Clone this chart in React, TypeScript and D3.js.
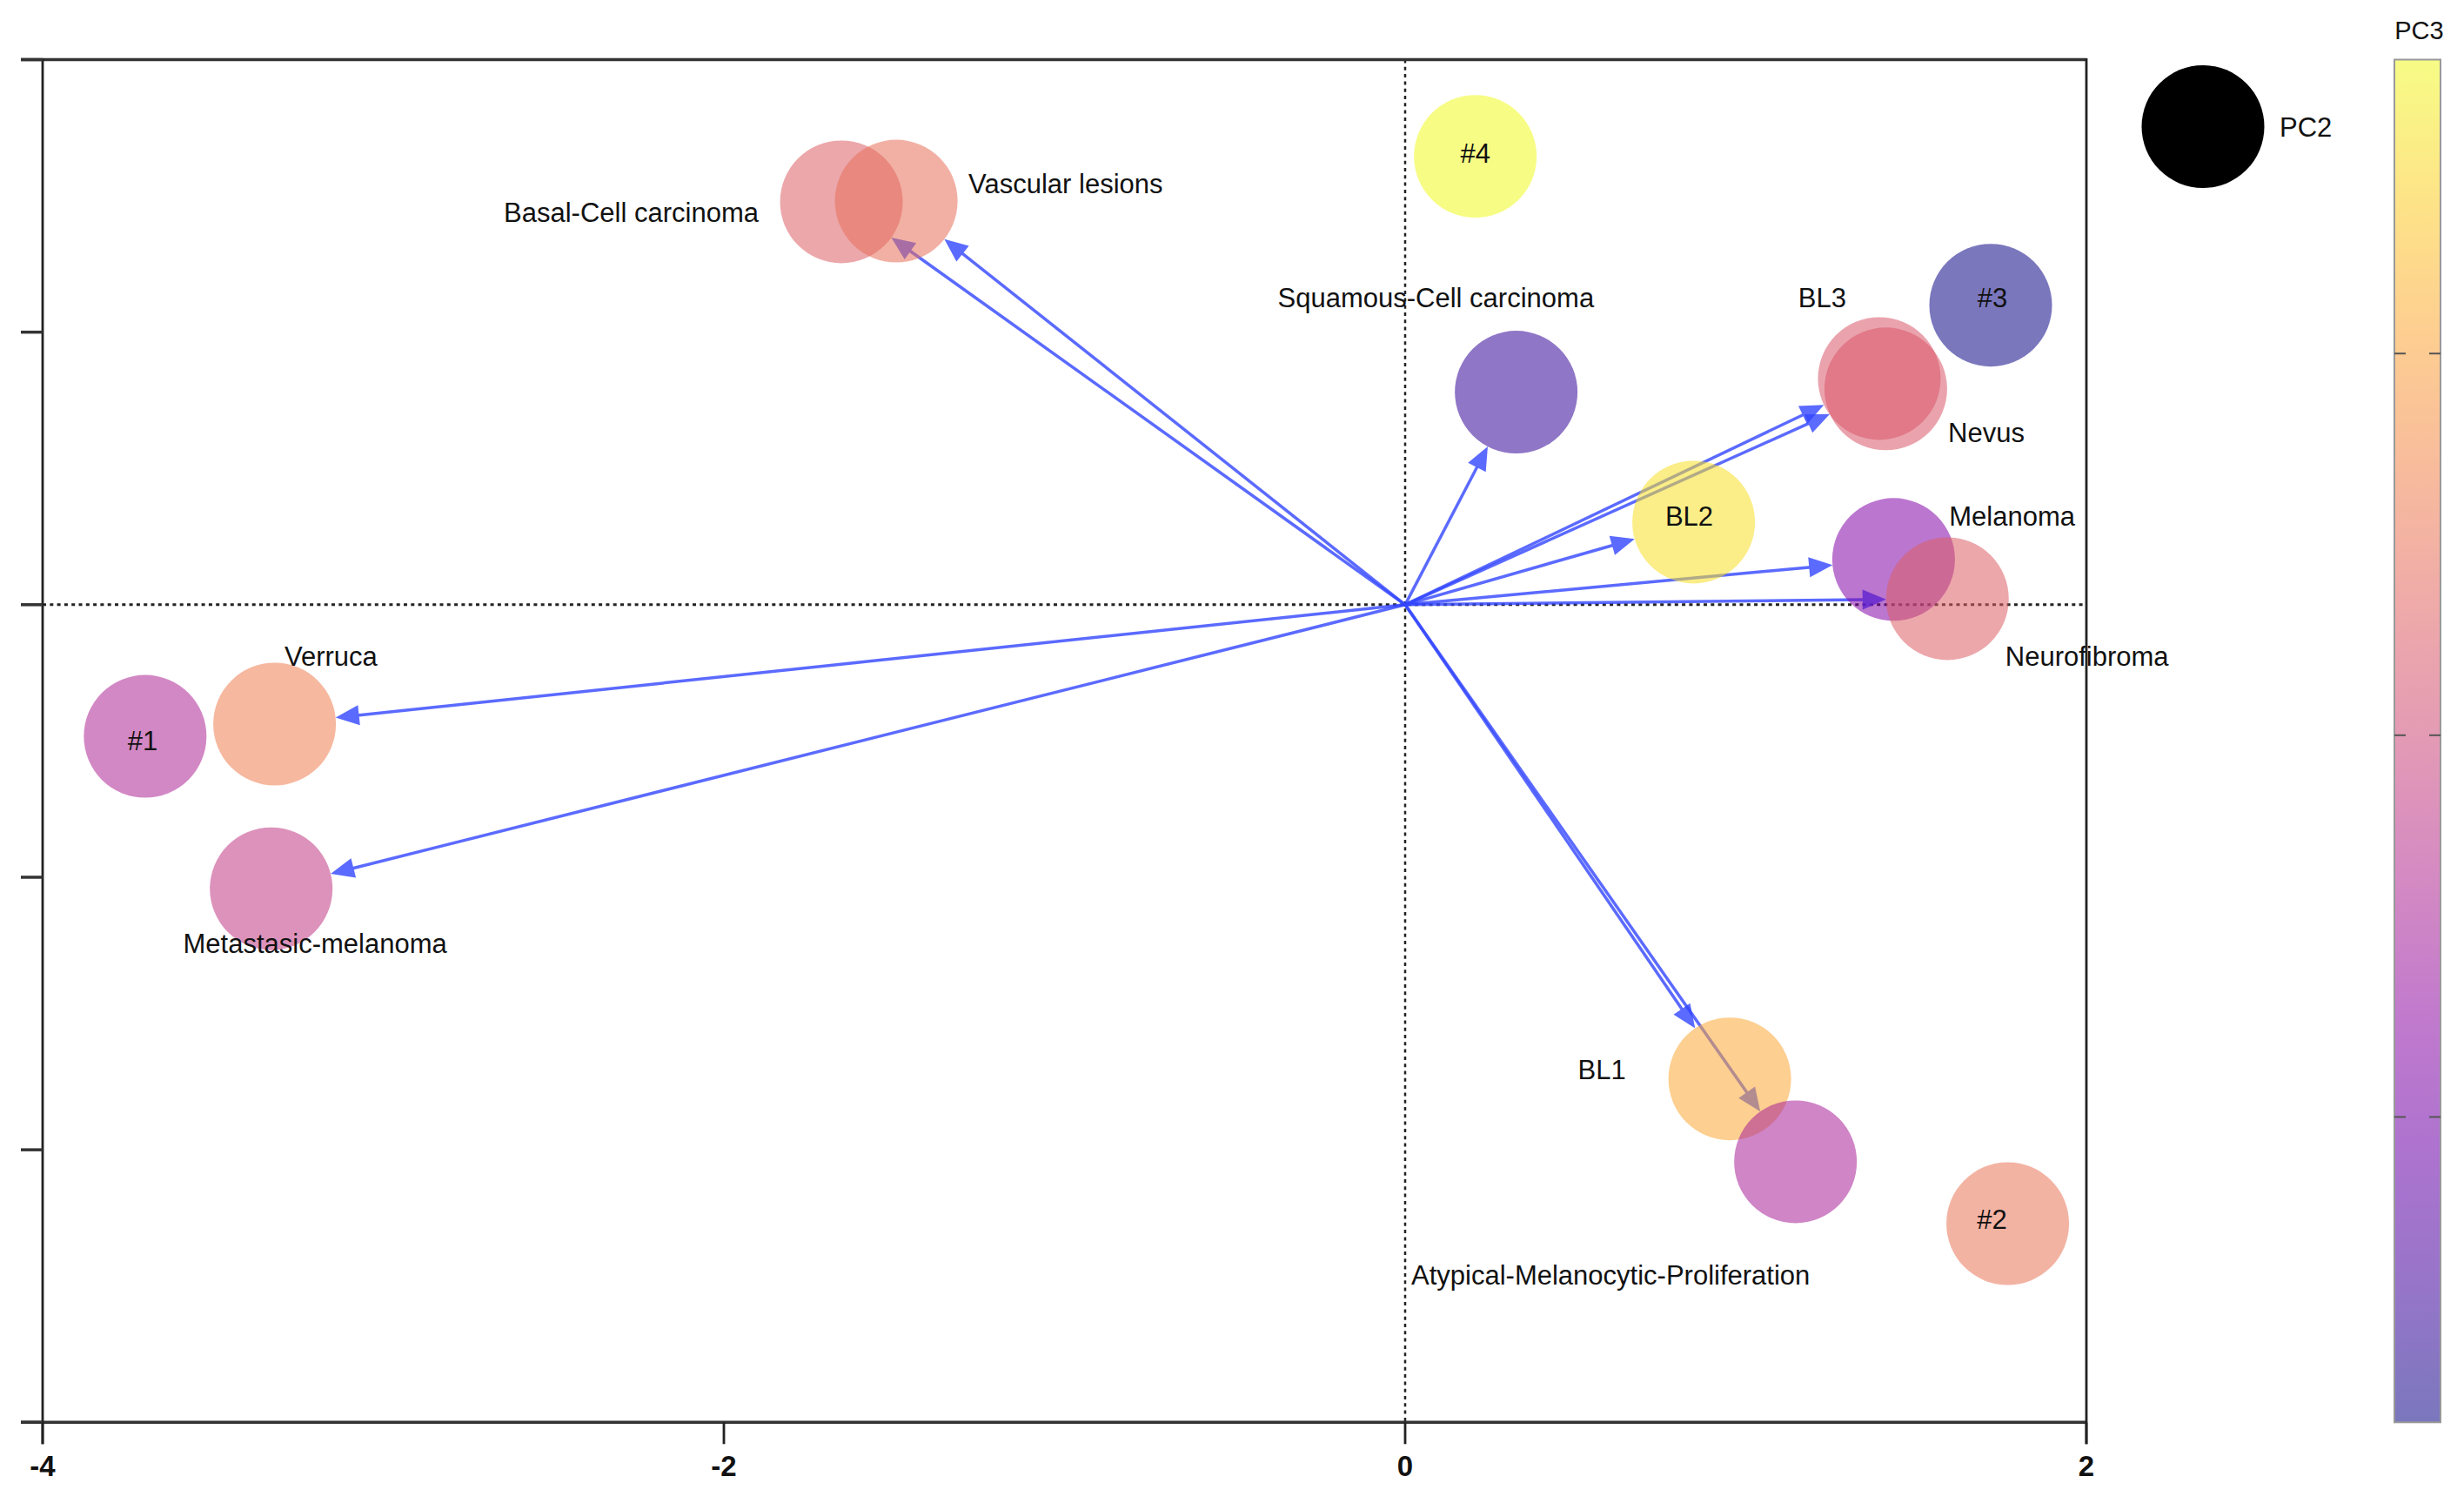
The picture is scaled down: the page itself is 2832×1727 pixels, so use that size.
import React from "react";
import * as d3 from "d3";

// ---- data ----
const names = [
  "#1", "Verruca", "Metastasic-melanoma", "Basal-Cell carcinoma", "Vascular lesions",
  "#4", "Squamous-Cell carcinoma", "#3", "BL3", "Nevus", "BL2", "Melanoma",
  "Neurofibroma", "BL1", "Atypical-Melanocytic-Proliferation", "#2",
];
const pc1 = [-3.699, -3.319, -3.329, -1.655, -1.494, 0.206, 0.326, 1.719, 1.392, 1.411, 0.847, 1.434, 1.592, 0.953, 1.146, 1.769];
const pc2 = [-0.483, -0.438, -1.042, 1.478, 1.481, 1.645, 0.78, 1.099, 0.83, 0.792, 0.303, 0.166, 0.022, -1.74, -2.044, -2.271];
const pc3 = [-0.41, 0.63, -0.19, 0.27, 0.48, 1.77, -1.55, -1.8, 0.2, 0.2, 1.56, -0.84, 0.27, 1.06, -0.48, 0.52];
const hasArrow = [false, true, true, true, true, false, true, false, true, true, true, true, true, true, true, false];

// label anchor positions (data units) and whether centred on the point
const labelPC1 = [-3.706, -3.29, -3.5875, -2.646, -1.282, 0.206, -0.374, 1.724, 1.154, 1.594, 0.834, 1.597, 1.762, 0.507, 0.018, 1.723];
const labelPC2 = [-0.534, -0.223, -1.278, 1.406, 1.51, 1.622, 1.0915, 1.0925, 1.091, 0.5975, 0.29, 0.29, -0.224, -1.741, -2.494, -2.29];
const labelCentered = [true, false, false, false, false, true, false, true, false, false, true, false, false, false, false, true];

const xTicks = [-4, -2, 0, 2];
const yTicks = [-3, -2, -1, 0, 1, 2];
const cbTicks = [-1, 0, 1];
const cbStops = [0, 0.1, 0.2, 0.3, 0.4, 0.5, 0.6, 0.7, 0.8, 0.9, 1];

const FONT = "'Liberation Sans', Arial, Helvetica, sans-serif";

export default function App() {
  const W = 2832;
  const H = 1727;
  const left = 49, right = 2398, top = 68.5, bottom = 1634.3;
  const x = d3.scaleLinear().domain([-4, 2]).range([left, right]);
  const y = d3.scaleLinear().domain([-3, 2]).range([bottom, top]);
  const ext = d3.extent(pc3) as [number, number];
  const color = d3.scaleSequential(d3.interpolatePlasma).domain(ext);
  const cbY = d3.scaleLinear().domain(ext).range([bottom, top]);
  const cbX0 = 2752, cbX1 = 2805;
  const r = 70.5;
  const alpha = 0.55;
  const headL = 27, headW = 11.5;
  const arrowColor = "#3346ff";

  const ox = x(0), oy = y(0);

  const arrows = names.map((n, i) => {
    if (!hasArrow[i]) return null;
    const cx = x(pc1[i]), cy = y(pc2[i]);
    const dx = cx - ox, dy = cy - oy;
    const len = Math.hypot(dx, dy);
    const ux = dx / len, uy = dy / len;
    const tx = cx - r * ux, ty = cy - r * uy;
    const bx = tx - headL * ux, by = ty - headL * uy;
    const nx = -uy, ny = ux;
    const pts = [
      [tx, ty],
      [bx + headW * nx, by + headW * ny],
      [bx - headW * nx, by - headW * ny],
    ];
    return (
      <g key={"a" + i} opacity={0.8}>
        <line x1={ox} y1={oy} x2={bx + 2 * ux} y2={by + 2 * uy} stroke={arrowColor} strokeWidth={3.5} />
        <polygon points={pts.map((p) => p.join(",")).join(" ")} fill={arrowColor} />
      </g>
    );
  });

  return (
    <svg
      width={W}
      height={H}
      viewBox={`0 0 ${W} ${H}`}
      style={{ position: "absolute", left: 0, top: 0, display: "block", background: "#fff" }}
      fontFamily={FONT}
    >
      <defs>
        <linearGradient id="cbGrad" x1="0" y1="1" x2="0" y2="0">
          {cbStops.map((t) => (
            <stop key={t} offset={t} stopColor={d3.interpolatePlasma(t)} stopOpacity={alpha} />
          ))}
        </linearGradient>
      </defs>
      <rect x={0} y={0} width={W} height={H} fill="#fff" />

      {/* reference lines */}
      <line x1={left} x2={right} y1={oy} y2={oy} stroke="#222" strokeWidth={3} strokeDasharray="4 4.3" />
      <line x1={ox} x2={ox} y1={top} y2={bottom} stroke="#222" strokeWidth={2.5} strokeDasharray="4 4.3" />

      {/* arrows */}
      {arrows}

      {/* circles */}
      {names.map((n, i) => (
        <circle key={"c" + i} cx={x(pc1[i])} cy={y(pc2[i])} r={r} fill={color(pc3[i])} fillOpacity={alpha} />
      ))}

      {/* labels */}
      {names.map((n, i) => (
        <text
          key={"t" + i}
          x={x(labelPC1[i])}
          y={y(labelPC2[i])}
          fontSize={31}
          fill="#111"
          textAnchor={labelCentered[i] ? "middle" : "start"}
        >
          {n}
        </text>
      ))}

      {/* axes frame */}
      <line x1={left - 25} x2={right} y1={top} y2={top} stroke="#333" strokeWidth={3.5} />
      <line x1={left - 25} x2={right} y1={bottom} y2={bottom} stroke="#333" strokeWidth={3.5} />
      <line x1={left} x2={left} y1={top - 1.5} y2={bottom + 25} stroke="#222" strokeWidth={2.8} />
      <line x1={right} x2={right} y1={top - 1.5} y2={bottom + 25} stroke="#222" strokeWidth={2.8} />
      {yTicks.map((t) => (
        <line key={"yt" + t} x1={left - 25} x2={left} y1={y(t)} y2={y(t)} stroke="#333" strokeWidth={3.5} />
      ))}
      {xTicks.map((t) => (
        <g key={"xt" + t}>
          <line x1={x(t)} x2={x(t)} y1={bottom} y2={bottom + 25} stroke="#222" strokeWidth={2.8} />
          <text x={x(t)} y={1696} fontSize={33} fontWeight="bold" textAnchor="middle" fill="#111">
            {t < 0 ? "-" + Math.abs(t) : String(t)}
          </text>
        </g>
      ))}

      {/* size legend */}
      <circle cx={2532} cy={145.5} r={r} fill="#000" />
      <text x={2620} y={157} fontSize={31} fill="#111">PC2</text>

      {/* colour bar */}
      <text x={(cbX0 + cbX1) / 2 + 2} y={45} fontSize={29} fill="#111" textAnchor="middle">PC3</text>
      <rect x={cbX0} y={top} width={cbX1 - cbX0} height={bottom - top} fill="url(#cbGrad)" stroke="#999" strokeWidth={2} />
      {cbTicks.map((t) => (
        <g key={"cb" + t}>
          <line x1={cbX0} x2={cbX0 + 13} y1={cbY(t)} y2={cbY(t)} stroke="#555" strokeWidth={2} />
          <line x1={cbX1 - 13} x2={cbX1} y1={cbY(t)} y2={cbY(t)} stroke="#555" strokeWidth={2} />
        </g>
      ))}
    </svg>
  );
}
